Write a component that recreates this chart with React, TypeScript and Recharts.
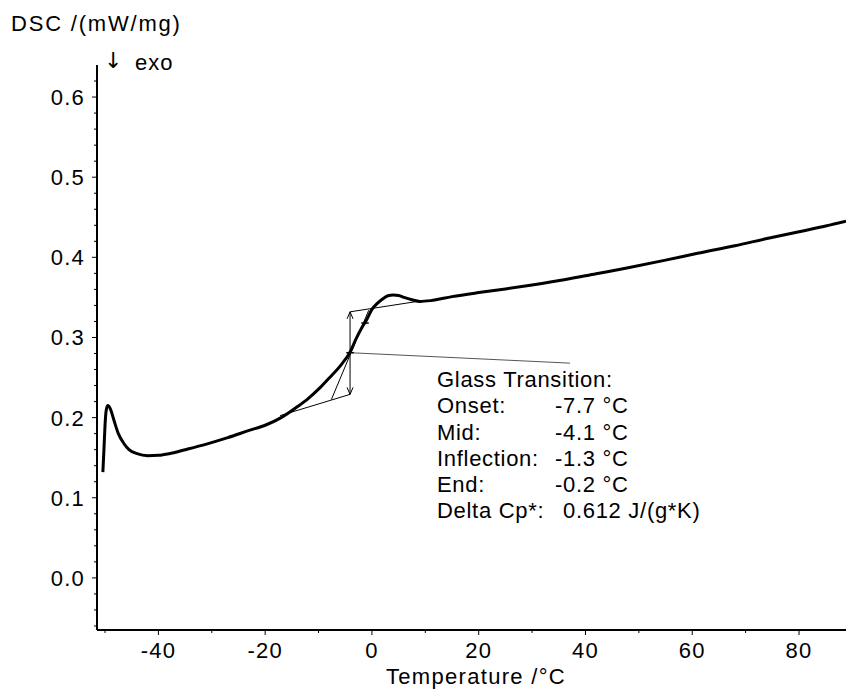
import React from 'react';
import { LineChart, Line, XAxis, YAxis, ReferenceLine, Customized } from 'recharts';

// DSC curve (temperature in °C, DSC in mW/mg)
const temperature = [
  -50.4, -50.2, -50.0, -49.8, -49.5, -49.0, -48.3, -47.5, -46.5, -45.5, -44.0, -42.0, -40.0,
  -38.0, -35.0, -31.0, -27.0, -23.0, -20.0, -17.0, -14.0, -12.0, -10.0, -8.0, -6.0, -4.0,
  -3.0, -2.0, -1.0, 0.0, 1.0, 2.0, 3.0, 4.0, 5.0, 6.0, 7.5, 9.0, 11.0, 15.0, 20.0, 25.0,
  30.0, 36.0, 42.0, 48.0, 55.0, 61.0, 68.0, 74.0, 80.0, 85.0, 88.8,
];
const dsc = [
  0.132, 0.160, 0.190, 0.208, 0.215, 0.211, 0.196, 0.180, 0.168, 0.160, 0.155, 0.1525, 0.153,
  0.155, 0.160, 0.167, 0.175, 0.184, 0.1905, 0.2, 0.2135, 0.2235, 0.2355, 0.2495, 0.264, 0.283,
  0.298, 0.311, 0.322, 0.335, 0.3425, 0.348, 0.352, 0.353, 0.3525, 0.350, 0.347, 0.345, 0.346,
  0.351, 0.356, 0.3605, 0.3655, 0.372, 0.3795, 0.387, 0.3965, 0.405, 0.4145, 0.4235, 0.432,
  0.439, 0.445,
];

const xMajorTicks = [-40, -20, 0, 20, 40, 60, 80];
const xMinorTicks = [-50, -30, -10, 10, 30, 50, 70];
const yMajorTicks = [0.0, 0.1, 0.2, 0.3, 0.4, 0.5, 0.6];
const yMinorTicks = [
  -0.06, -0.04, -0.02, 0.02, 0.04, 0.06, 0.08, 0.12, 0.14, 0.16, 0.18, 0.22, 0.24, 0.26, 0.28,
  0.32, 0.34, 0.36, 0.38, 0.42, 0.44, 0.46, 0.48, 0.52, 0.54, 0.56, 0.58, 0.62,
];
const xDomain = [-51.5, 88.8];
const yDomain = [-0.065, 0.64];

// Glass transition evaluation
const glassTitle = 'Glass Transition:';
const glassLabels = ['Onset:', 'Mid:', 'Inflection:', 'End:', 'Delta Cp*:'];
const glassValues = ['-7.7 °C', '-4.1 °C', '-1.3 °C', '-0.2 °C', '0.612 J/(g*K)'];
const lowerBaseline = [{ x: -17.2, y: 0.2025 }, { x: -4.1, y: 0.229 }];
const upperBaseline = [{ x: -4.1, y: 0.332 }, { x: 9.0, y: 0.3455 }];
const tangentLine = [{ x: -7.6, y: 0.2225 }, { x: -0.6, y: 0.334 }];
const stepArrow = [{ x: -4.1, y: 0.229 }, { x: -4.1, y: 0.332 }];
const connector = [{ x: -4.1, y: 0.281 }, { x: 37.1, y: 0.268 }];
const midMark = [{ x: -4.8, y: 0.281 }, { x: -3.4, y: 0.281 }];
const inflMark = [{ x: -2.0, y: 0.318 }, { x: -0.6, y: 0.318 }];

const data = temperature.map((t, i) => ({ T: t, V: dsc[i] }));
const FONT = '"Liberation Sans", Arial, sans-serif';
const FS = 22;
const near = (a: number, b: number) => Math.abs(a - b) < 1e-9;

const YTick = (props: any) => {
  const { x, y, payload } = props;
  const v = payload.value as number;
  const major = yMajorTicks.some((m) => near(m, v));
  return (
    <g>
      <line x1={x - (major ? 5 : 3)} x2={x} y1={y} y2={y} stroke="#000" strokeWidth={1} />
      {major && (
        <text x={x - 12} y={y} dy="0.36em" textAnchor="end" fontFamily={FONT} fontSize={FS} letterSpacing={1.2} fill="#000">
          {v.toFixed(1)}
        </text>
      )}
    </g>
  );
};

const XTick = (props: any) => {
  const { x, y, payload } = props;
  const v = payload.value as number;
  const major = xMajorTicks.some((m) => near(m, v));
  return (
    <g>
      <line x1={x} x2={x} y1={y} y2={y + (major ? 5 : 3)} stroke="#000" strokeWidth={1} />
      {major && (
        <text x={x} y={y + 20} dy="0.36em" textAnchor="middle" fontFamily={FONT} fontSize={FS} letterSpacing={1.2} fill="#000">
          {String(v)}
        </text>
      )}
    </g>
  );
};

const DoubleArrow = (p: any) => {
  const { x1, y1, x2, y2 } = p;
  const L = Math.hypot(x2 - x1, y2 - y1) || 1;
  const ux = (x2 - x1) / L;
  const uy = (y2 - y1) / L;
  const s = 7;
  const w = 3;
  const head = (px: number, py: number, dx: number, dy: number) =>
    `M${px - dx * s - dy * w},${py - dy * s + dx * w} L${px},${py} L${px - dx * s + dy * w},${py - dy * s - dx * w}`;
  return (
    <g>
      <line x1={x1} y1={y1} x2={x2} y2={y2} stroke="#000" strokeWidth={1} />
      <path d={head(x1, y1, -ux, -uy)} fill="none" stroke="#000" strokeWidth={1} />
      <path d={head(x2, y2, ux, uy)} fill="none" stroke="#000" strokeWidth={1} />
    </g>
  );
};

const Texts = () => (
  <g fontFamily={FONT} fill="#000">
    <text x={11} y={23} dy="0.36em" fontSize={FS} letterSpacing={1.8}>DSC /(mW/mg)</text>
    <text x={104} y={60} dy="0.36em" fontSize={22} fontFamily='"DejaVu Sans", sans-serif'>↓</text>
    <text x={135} y={62} dy="0.36em" fontSize={FS} letterSpacing={1}>exo</text>
    <text x={476} y={684} textAnchor="middle" fontSize={FS} letterSpacing={1.3}>Temperature /°C</text>
    <text x={437} y={379} dy="0.36em" fontSize={FS} letterSpacing={0.7}>{glassTitle}</text>
    {glassLabels.map((l, i) => (
      <text key={l} x={437} y={405.5 + i * 26.2} dy="0.36em" fontSize={FS} letterSpacing={0.7}>{l}</text>
    ))}
    {glassValues.map((v, i) => (
      <text key={v} x={i === 4 ? 563 : 555} y={405.5 + i * 26.2} dy="0.36em" fontSize={FS} letterSpacing={0.7}>{v}</text>
    ))}
  </g>
);

export default function App() {
  return (
    <div style={{ position: 'absolute', left: 0, top: 0, width: 846, height: 690, background: '#fff' }}>
      <LineChart width={846} height={690} data={data} margin={{ top: 65, right: 0, bottom: 0, left: 0 }}>
        <XAxis
          type="number"
          dataKey="T"
          domain={xDomain}
          allowDataOverflow
          ticks={[...xMajorTicks, ...xMinorTicks].sort((a, b) => a - b)}
          interval={0}
          tickSize={0}
          tickMargin={0}
          tickLine={false}
          tick={<XTick />}
          height={60}
          axisLine={{ stroke: '#000', strokeWidth: 2 }}
        />
        <YAxis
          type="number"
          dataKey="V"
          domain={yDomain}
          allowDataOverflow
          ticks={[...yMajorTicks, ...yMinorTicks].sort((a, b) => a - b)}
          interval={0}
          tickSize={0}
          tickMargin={0}
          tickLine={false}
          tick={<YTick />}
          width={97}
          axisLine={{ stroke: '#000', strokeWidth: 2 }}
        />
        <ReferenceLine segment={lowerBaseline} stroke="#000" strokeWidth={1} />
        <ReferenceLine segment={upperBaseline} stroke="#000" strokeWidth={1} />
        <ReferenceLine segment={tangentLine} stroke="#000" strokeWidth={1} />
        <ReferenceLine segment={connector} stroke="#555" strokeWidth={1} />
        <ReferenceLine segment={midMark} stroke="#000" strokeWidth={1.5} />
        <ReferenceLine segment={inflMark} stroke="#000" strokeWidth={1.5} />
        <ReferenceLine segment={stepArrow} shape={DoubleArrow} />
        <Line
          type="monotone"
          dataKey="V"
          stroke="#000"
          strokeWidth={3}
          dot={false}
          isAnimationActive={false}
        />
        <Customized component={Texts} />
      </LineChart>
    </div>
  );
}
